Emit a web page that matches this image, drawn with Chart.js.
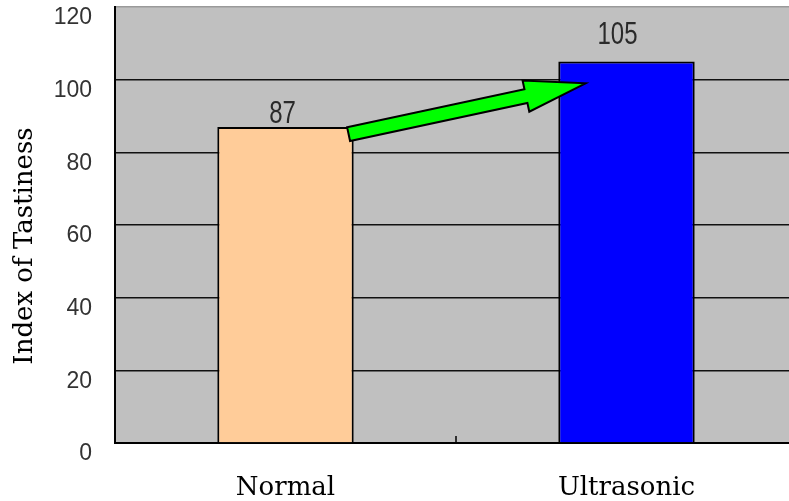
<!DOCTYPE html>
<html>
<head>
<meta charset="utf-8">
<script src="https://cdn.jsdelivr.net/npm/chart.js@4/dist/chart.umd.min.js"></script>
<style>
  html, body { margin: 0; padding: 0; background: #fff; overflow: hidden; width: 789px; height: 501px; }
  #wrap { position: absolute; left: 0; top: 0; width: 800px; height: 501px; }
</style>
</head>
<body>
<div id="wrap"><canvas id="c" width="800" height="501"></canvas></div>
<script>
const categories = ['Normal', 'Ultrasonic'];
const tastiness = [87, 105];
const barColors = ['#FFCC99', '#0000FF'];
const yTicks = [0, 20, 40, 60, 80, 100, 120];
const axisTitle = 'Index of Tastiness';

// grey plotting area behind the bars
const plotBg = {
  id: 'plotBg',
  beforeDraw(chart) {
    const { ctx, chartArea: a } = chart;
    ctx.save();
    ctx.fillStyle = '#C0C0C0';
    ctx.fillRect(a.left, a.top, a.right - a.left, a.bottom - a.top);
    ctx.restore();
  }
};

// small inward tick between the two categories
const midTick = {
  id: 'midTick',
  afterDraw(chart) {
    const { ctx, chartArea: a, scales: { x } } = chart;
    const mx = (x.getPixelForValue(0) + x.getPixelForValue(1)) / 2;
    ctx.save();
    ctx.strokeStyle = '#000';
    ctx.lineWidth = 1.5;
    ctx.beginPath();
    ctx.moveTo(mx, a.bottom - 7);
    ctx.lineTo(mx, a.bottom);
    ctx.stroke();
    ctx.restore();
  }
};

// green arrow pointing from the normal bar up to the ultrasonic bar
const riseArrow = {
  id: 'riseArrow',
  afterDatasetsDraw(chart, args, opts) {
    const { ctx, scales: { x, y } } = chart;
    const step = x.getPixelForValue(1) - x.getPixelForValue(0);
    const x0 = x.getPixelForValue(0) + opts.from.dx * step, y0 = y.getPixelForValue(opts.from.v);
    const x1 = x.getPixelForValue(1) + opts.to.dx * step, y1 = y.getPixelForValue(opts.to.v);
    const len = Math.hypot(x1 - x0, y1 - y0);
    const ang = Math.atan2(y1 - y0, x1 - x0);
    const hl = 61, hw = 16, sw = 7;
    ctx.save();
    ctx.translate(x0, y0);
    ctx.rotate(ang);
    ctx.beginPath();
    ctx.moveTo(0, -sw);
    ctx.lineTo(len - hl, -sw);
    ctx.lineTo(len - hl, -hw);
    ctx.lineTo(len, 0);
    ctx.lineTo(len - hl, hw);
    ctx.lineTo(len - hl, sw);
    ctx.lineTo(0, sw);
    ctx.closePath();
    ctx.fillStyle = '#00FF00';
    ctx.fill();
    ctx.strokeStyle = '#000';
    ctx.lineWidth = 2;
    ctx.lineJoin = 'miter';
    ctx.stroke();
    ctx.restore();
  }
};

// numbers above each bar, in a tall narrow face
const valueLabels = {
  id: 'valueLabels',
  afterDatasetsDraw(chart, args, opts) {
    const { ctx } = chart;
    const meta = chart.getDatasetMeta(0);
    meta.data.forEach((bar, i) => {
      const v = chart.data.datasets[0].data[i];
      ctx.save();
      ctx.translate(bar.x + opts.dx[i], bar.y - opts.gap[i]);
      ctx.scale(1, 1.27);
      ctx.font = opts.font;
      ctx.fillStyle = '#2a2a2a';
      ctx.textAlign = 'center';
      ctx.textBaseline = 'alphabetic';
      ctx.fillText(String(v), 0, 0);
      ctx.restore();
    });
  }
};

// rotated y-axis title
const yTitle = {
  id: 'yTitle',
  afterDraw(chart, args, opts) {
    const { ctx } = chart;
    ctx.save();
    ctx.translate(opts.x, opts.y);
    ctx.rotate(-Math.PI / 2);
    ctx.font = '26px "DejaVu Serif"';
    ctx.fillStyle = '#000';
    ctx.textAlign = 'center';
    ctx.textBaseline = 'middle';
    ctx.fillText(axisTitle, 0, 0);
    ctx.restore();
  }
};

new Chart(document.getElementById('c'), {
  type: 'bar',
  data: {
    labels: categories,
    datasets: [{
      data: tastiness,
      backgroundColor: barColors,
      borderColor: '#000',
      borderWidth: 2,
      barPercentage: 0.4,
      categoryPercentage: 1
    }]
  },
  options: {
    responsive: false,
    animation: false,
    devicePixelRatio: 1,
    layout: { padding: { top: 7, right: 3, left: 0, bottom: 0 } },
    plugins: {
      legend: { display: false },
      tooltip: { enabled: false },
      riseArrow: { from: { dx: 0.185, v: 85 }, to: { dx: -0.12, v: 99 } },
      valueLabels: { font: '24px "Liberation Sans", sans-serif', dx: [-3, -9], gap: [4, 18] },
      yTitle: { x: 25, y: 246 }
    },
    scales: {
      x: {
        grid: { display: false, drawTicks: false },
        border: { color: '#000', width: 2 },
        ticks: { font: { family: 'DejaVu Serif', size: 26 }, color: '#000', padding: 30 },
        afterFit(s) { s.height = 58; s.paddingLeft = 0; s.paddingRight = 0; }
      },
      y: {
        min: 0, max: 120,
        afterBuildTicks(s) { s.ticks = yTicks.map(v => ({ value: v })); },
        grid: { color: c => (c.tick && c.tick.value === 120) ? '#9a9a9a' : '#111', lineWidth: 1.5, drawTicks: false },
        border: { color: '#000', width: 2 },
        ticks: { font: { family: 'Liberation Sans', size: 23 }, color: '#333', padding: 23, labelOffset: 11 },
        afterFit(s) { s.width = 115; s.paddingTop = 0; s.paddingBottom = 0; }
      }
    }
  },
  plugins: [plotBg, riseArrow, valueLabels, midTick, yTitle]
});
</script>
</body>
</html>
